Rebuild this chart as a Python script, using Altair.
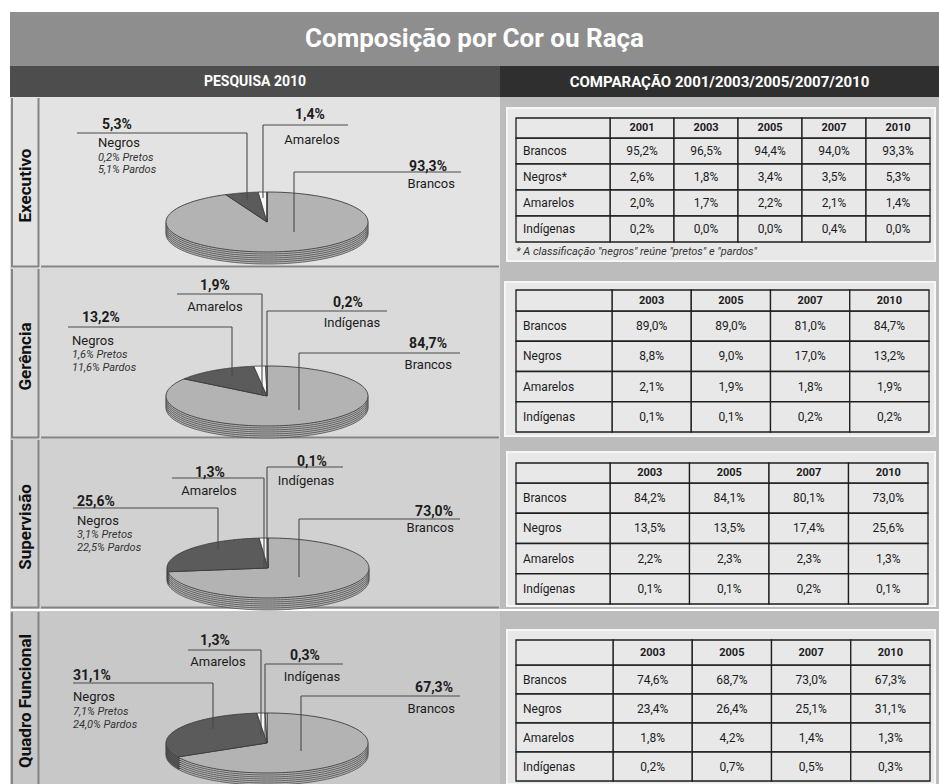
import altair as alt
import pandas as pd

# ---------------- data ----------------
TITLE = "Composição por Cor ou Raça"
HEAD_LEFT = "PESQUISA 2010"
HEAD_RIGHT = "COMPARAÇÃO 2001/2003/2005/2007/2010"
FOOTNOTE = '* A classificação "negros" reúne "pretos" e "pardos"'

levels = ["Executivo", "Gerência", "Supervisão", "Quadro Funcional"]
categories = ["Brancos", "Negros", "Amarelos", "Indígenas"]
executivo_row_labels = ["Brancos", "Negros*", "Amarelos", "Indígenas"]

years_executivo = ["2001", "2003", "2005", "2007", "2010"]
years_others = ["2003", "2005", "2007", "2010"]

executivo_brancos = [95.2, 96.5, 94.4, 94.0, 93.3]
executivo_negros = [2.6, 1.8, 3.4, 3.5, 5.3]
executivo_amarelos = [2.0, 1.7, 2.2, 2.1, 1.4]
executivo_indigenas = [0.2, 0.0, 0.0, 0.4, 0.0]

gerencia_brancos = [89.0, 89.0, 81.0, 84.7]
gerencia_negros = [8.8, 9.0, 17.0, 13.2]
gerencia_amarelos = [2.1, 1.9, 1.8, 1.9]
gerencia_indigenas = [0.1, 0.1, 0.2, 0.2]

supervisao_brancos = [84.2, 84.1, 80.1, 73.0]
supervisao_negros = [13.5, 13.5, 17.4, 25.6]
supervisao_amarelos = [2.2, 2.3, 2.3, 1.3]
supervisao_indigenas = [0.1, 0.1, 0.2, 0.1]

quadro_brancos = [74.6, 68.7, 73.0, 67.3]
quadro_negros = [23.4, 26.4, 25.1, 31.1]
quadro_amarelos = [1.8, 4.2, 1.4, 1.3]
quadro_indigenas = [0.2, 0.7, 0.5, 0.3]

pretos_2010 = [0.2, 1.6, 3.1, 7.1]
pardos_2010 = [5.1, 11.6, 22.5, 24.0]

series = {
    "Executivo": (years_executivo, [executivo_brancos, executivo_negros, executivo_amarelos, executivo_indigenas]),
    "Gerência": (years_others, [gerencia_brancos, gerencia_negros, gerencia_amarelos, gerencia_indigenas]),
    "Supervisão": (years_others, [supervisao_brancos, supervisao_negros, supervisao_amarelos, supervisao_indigenas]),
    "Quadro Funcional": (years_others, [quadro_brancos, quadro_negros, quadro_amarelos, quadro_indigenas]),
}

# ---------------- layout & style ----------------
FONT = "Roboto, sans-serif"
ROW_H = [171, 171, 170, 174]
STRIP_W, PIE_W, TAB_W = 30, 460, 439
ROW_BG = ["#e3e3e3", "#dadada", "#d1d1d1", "#c8c8c8"]
TAB_OUTER = "#bcbcbc"
BOX_FILL = "#e8e8e8"
BOX_STROKE = "#f6f6f6"
GRID = "#1e1e1e"
SEP = "#858585"
SLICE_COLORS = ["#b3b3b3", "#5b5b5b", "#f7f7f7", "#ffffff"]
LINE_C = "#4a4a4a"
TXT = "#1c1c1c"

PIE_CENTER = [(227, 125), (227, 128), (228, 129), (227, 132)]
PIE_A, PIE_B = 101, 30
RIM_OFFSETS = [12, 10, 8, 6, 4, 2, 0]
N_STEPS = 120

# (cat, align, pct_x, pct_y, name_x, name_y, x0, x1, line_y, vx, vy_end)
LABELS = [
    [("Negros", "left", 62, 28, 58, 46, 37, 207, 36, 207, 103),
     ("Amarelos", "center", 270, 18, 272, 43, 223, 308, 28, 223, 101),
     ("Brancos", "right", 407, 70, 415, 87, 254, 421, 75, 254, 135)],
    [("Amarelos", "center", 175, 18, 175, 39, 137, 222, 26, 222, 127),
     ("Indígenas", "center", 308, 35, 312, 55, 227, 347, 43, 227, 128),
     ("Negros", "left", 42, 50, 32, 73, 28, 192, 59, 192, 109),
     ("Brancos", "right", 407, 76, 412, 97, 259, 420, 85, 259, 142)],
    [("Indígenas", "center", 272, 23, 266, 42, 227, 303, 28, 227, 129),
     ("Amarelos", "center", 170, 34, 169, 52, 132, 224, 39, 224, 129),
     ("Negros", "left", 37, 63, 37, 82, 33, 178, 69, 178, 111),
     ("Brancos", "right", 413, 73, 414, 89, 259, 420, 80, 259, 138)],
    [("Amarelos", "center", 175, 30, 178, 51, 148, 221, 39, 221, 124),
     ("Indígenas", "center", 265, 45, 272, 66, 225, 303, 53, 225, 126),
     ("Negros", "left", 33, 65, 33, 86, 33, 173, 72, 173, 118),
     ("Brancos", "right", 413, 77, 415, 98, 261, 420, 85, 261, 140)],
]
SUB_LAYOUT = [(58, 61, 73), (32, 87, 100), (37, 96, 109), (33, 101, 114)]

TABLE_LAYOUT = [
    dict(bx0=7, by0=11, bx1=435, by1=164, left=16, c0=110, right=430, top=21, h1=41, bottom=145),
    dict(bx0=5, by0=14, bx1=435, by1=168, left=16, c0=112, right=429, top=22, h1=43, bottom=164),
    dict(bx0=7, by0=13, bx1=435, by1=167, left=16, c0=110, right=428, top=24, h1=44, bottom=165),
    dict(bx0=7, by0=19, bx1=435, by1=173, left=16, c0=113, right=430, top=29, h1=54, bottom=170),
]
FOOT_POS = (16, 155)


def fmt(field):
    return f"replace(format(datum.{field}, '.1f'), '.', ',') + '%'"


def view(fill):
    return alt.ViewBackground(fill=fill, stroke="transparent", strokeWidth=0)


one = pd.DataFrame({"k": [0]})


def hrule(x0, x1, y, w=2):
    return alt.Chart(one).mark_rule(color=SEP, strokeWidth=w).encode(
        x=alt.value(x0), x2=alt.value(x1), y=alt.value(y))


def vrule(x, y0, y1, w=2):
    return alt.Chart(one).mark_rule(color=SEP, strokeWidth=w).encode(
        x=alt.value(x), y=alt.value(y0), y2=alt.value(y1))


def text_panel(text, w, h, fill, size):
    return (
        alt.Chart(pd.DataFrame({"t": [text]}))
        .mark_text(font=FONT, fontSize=size, fontWeight="bold", color="white",
                   align="center", baseline="middle")
        .encode(x=alt.value(w / 2), y=alt.value(h / 2), text="t:N")
        .properties(width=w, height=h, view=view(fill))
    )


def strip(i):
    h = ROW_H[i]
    txt = (
        alt.Chart(pd.DataFrame({"t": [levels[i]]}))
        .mark_text(font=FONT, fontSize=17, fontWeight="bold", color="#111111",
                   angle=270, align="center", baseline="middle")
        .encode(x=alt.value(16), y=alt.value(h / 2 + 3), text="t:N")
    )
    layers = [vrule(2, 1, h - 1), vrule(STRIP_W - 1.5, 1, h - 1), txt]
    if i < 3:
        layers.append(hrule(1, STRIP_W - 1, h - 1.5))
    return alt.layer(*layers).properties(width=STRIP_W, height=h, view=view(ROW_BG[i]))


def pie_panel(i):
    lvl = levels[i]
    yrs, cols = series[lvl]
    vals = [c[-1] for c in cols]
    cx, cy = PIE_CENTER[i]
    N = N_STEPS
    h = ROW_H[i]
    sl = pd.DataFrame({"cat": categories, "val": vals, "ord": list(range(len(categories)))})
    base = (
        alt.Chart(sl)
        .transform_window(cum="sum(val)", sort=[alt.SortField("ord")], frame=[None, 0])
        .transform_joinaggregate(total="sum(val)")
        .transform_calculate(step=f"sequence(-1, {N + 2})")
        .transform_flatten(["step"])
        .transform_calculate(
            ang=f"2 * PI * (datum.cum - datum.val + datum.val * clamp(datum.step, 0, {N}) / {N}) / datum.total")
        .transform_calculate(
            sx=f"(datum.step < 0 || datum.step > {N}) ? 0 : sin(datum.ang)",
            sy=f"(datum.step < 0 || datum.step > {N}) ? 0 : -cos(datum.ang)")
    )
    xs = alt.X("sx:Q", scale=alt.Scale(domain=[-1, 1], range=[cx - PIE_A, cx + PIE_A], nice=False, zero=False), axis=None)
    ys = alt.Y("sy:Q", scale=alt.Scale(domain=[-1, 1], range=[cy - PIE_B, cy + PIE_B], nice=False, zero=False), axis=None)
    fillenc = alt.Fill("cat:N", scale=alt.Scale(domain=categories, range=SLICE_COLORS), legend=None)
    layers = []
    if i < 3:
        layers.append(hrule(1, PIE_W - 1, h - 1.5))
    for k in RIM_OFFSETS:
        layers.append(
            base.mark_line(filled=True, stroke="#3c3c3c", strokeWidth=0.7 if k else 0.9,
                           yOffset=k, strokeJoin="round")
            .encode(x=xs, y=ys, fill=fillenc, order=alt.Order("step:Q"), detail="cat:N")
        )

    rows = []
    for (cat, align, px, py, nx, ny, x0, x1, ly, vx, vy) in LABELS[i]:
        rows.append(dict(cat=cat, val=vals[categories.index(cat)], align=align, px=px, py=py,
                         nx=nx, ny=ny, x0=x0, x1=x1, ly=ly, vx=vx, vy=vy))
    ldf = pd.DataFrame(rows)
    lb = alt.Chart(ldf)
    layers.append(lb.mark_rule(color=LINE_C, strokeWidth=1.1).encode(
        x=alt.X("x0:Q", scale=None, axis=None), x2="x1:Q", y=alt.Y("ly:Q", scale=None, axis=None)))
    layers.append(lb.mark_rule(color=LINE_C, strokeWidth=1.1).encode(
        x=alt.X("vx:Q", scale=None, axis=None), y=alt.Y("ly:Q", scale=None, axis=None), y2="vy:Q"))
    for a in ["left", "center", "right"]:
        sub = lb.transform_filter(f"datum.align == '{a}'")
        layers.append(
            sub.transform_calculate(pct=fmt("val"))
            .mark_text(font=FONT, fontSize=14, fontWeight="bold", color=TXT, align=a, baseline="middle")
            .encode(x=alt.X("px:Q", scale=None, axis=None), y=alt.Y("py:Q", scale=None, axis=None), text="pct:N"))
        layers.append(
            sub.mark_text(font=FONT, fontSize=13, color=TXT, align=a, baseline="middle")
            .encode(x=alt.X("nx:Q", scale=None, axis=None), y=alt.Y("ny:Q", scale=None, axis=None), text="cat:N"))
    sx_, y1, y2 = SUB_LAYOUT[i]
    sdf = pd.DataFrame({"name": ["Pretos", "Pardos"], "val": [pretos_2010[i], pardos_2010[i]],
                        "x": [sx_, sx_], "y": [y1, y2]})
    layers.append(
        alt.Chart(sdf).transform_calculate(t=fmt("val") + " + ' ' + datum.name")
        .mark_text(font=FONT, fontSize=11, fontStyle="italic", color="#333333", align="left", baseline="middle")
        .encode(x=alt.X("x:Q", scale=None, axis=None), y=alt.Y("y:Q", scale=None, axis=None), text="t:N"))
    return (
        alt.layer(*layers)
        .resolve_scale(x="independent", y="independent")
        .properties(width=PIE_W, height=h, view=view(ROW_BG[i]))
    )


def table_panel(i):
    lvl = levels[i]
    yrs, cols = series[lvl]
    labels = executivo_row_labels if i == 0 else categories
    L = TABLE_LAYOUT[i]
    cells = pd.DataFrame([dict(lab=labels[r], year=yrs[c], val=cols[r][c])
                          for r in range(len(labels)) for c in range(len(yrs))])
    xsc = alt.Scale(type="band", domain=yrs, range=[L["c0"], L["right"]], paddingInner=0, paddingOuter=0)
    ysc = alt.Scale(type="band", domain=labels, range=[L["h1"], L["bottom"]], paddingInner=0, paddingOuter=0)
    cell_style = dict(fill=BOX_FILL, stroke=GRID, strokeWidth=1.3)
    layers = [
        alt.Chart(one).mark_rect(fill=BOX_FILL, stroke=BOX_STROKE, strokeWidth=2).encode(
            x=alt.value(L["bx0"]), x2=alt.value(L["bx1"]), y=alt.value(L["by0"]), y2=alt.value(L["by1"])),
        alt.Chart(cells).mark_rect(**cell_style).encode(
            x=alt.X("year:O", scale=xsc, axis=None), y=alt.Y("lab:O", scale=ysc, axis=None)),
        alt.Chart(pd.DataFrame({"year": yrs})).mark_rect(**cell_style).encode(
            x=alt.X("year:O", scale=xsc, axis=None), y=alt.value(L["top"]), y2=alt.value(L["h1"])),
        alt.Chart(pd.DataFrame({"lab": labels})).mark_rect(**cell_style).encode(
            x=alt.value(L["left"]), x2=alt.value(L["c0"]), y=alt.Y("lab:O", scale=ysc, axis=None)),
        alt.Chart(one).mark_rect(**cell_style).encode(
            x=alt.value(L["left"]), x2=alt.value(L["c0"]), y=alt.value(L["top"]), y2=alt.value(L["h1"])),
        alt.Chart(cells).transform_calculate(t=fmt("val"))
        .mark_text(font=FONT, fontSize=12, color=TXT, align="center", baseline="middle")
        .encode(x=alt.X("year:O", scale=xsc, axis=None, bandPosition=0.5),
                y=alt.Y("lab:O", scale=ysc, axis=None, bandPosition=0.5), text="t:N"),
        alt.Chart(pd.DataFrame({"year": yrs}))
        .mark_text(font=FONT, fontSize=11, fontWeight="bold", color=TXT, align="center", baseline="middle")
        .encode(x=alt.X("year:O", scale=xsc, axis=None, bandPosition=0.5),
                y=alt.value((L["top"] + L["h1"]) / 2), text="year:N"),
        alt.Chart(pd.DataFrame({"lab": labels}))
        .mark_text(font=FONT, fontSize=12, color=TXT, align="left", baseline="middle")
        .encode(x=alt.value(L["left"] + 7), y=alt.Y("lab:O", scale=ysc, axis=None, bandPosition=0.5), text="lab:N"),
    ]
    if i == 0:
        layers.append(
            alt.Chart(pd.DataFrame({"t": [FOOTNOTE]}))
            .mark_text(font=FONT, fontSize=11, fontStyle="italic", color="#333333", align="left", baseline="middle")
            .encode(x=alt.value(FOOT_POS[0]), y=alt.value(FOOT_POS[1]), text="t:N"))
    return alt.layer(*layers).properties(width=TAB_W, height=ROW_H[i], view=view(TAB_OUTER))


title = text_panel(TITLE, STRIP_W + PIE_W + TAB_W, 54, "#8e8e8e", 26)
header = alt.hconcat(
    text_panel(HEAD_LEFT, STRIP_W + PIE_W, 31, "#4d4d4d", 14),
    text_panel(HEAD_RIGHT, TAB_W, 31, "#2f2f2f", 15),
    spacing=0,
)
rows = [alt.hconcat(strip(i), pie_panel(i), table_panel(i), spacing=0) for i in range(4)]

chart = alt.vconcat(title, header, *rows, spacing=0).properties(
    padding={"left": 10, "top": 12, "right": 0, "bottom": 0},
    background="white",
)

chart.save("out.html", embed_options={"renderer": "svg", "actions": False})
